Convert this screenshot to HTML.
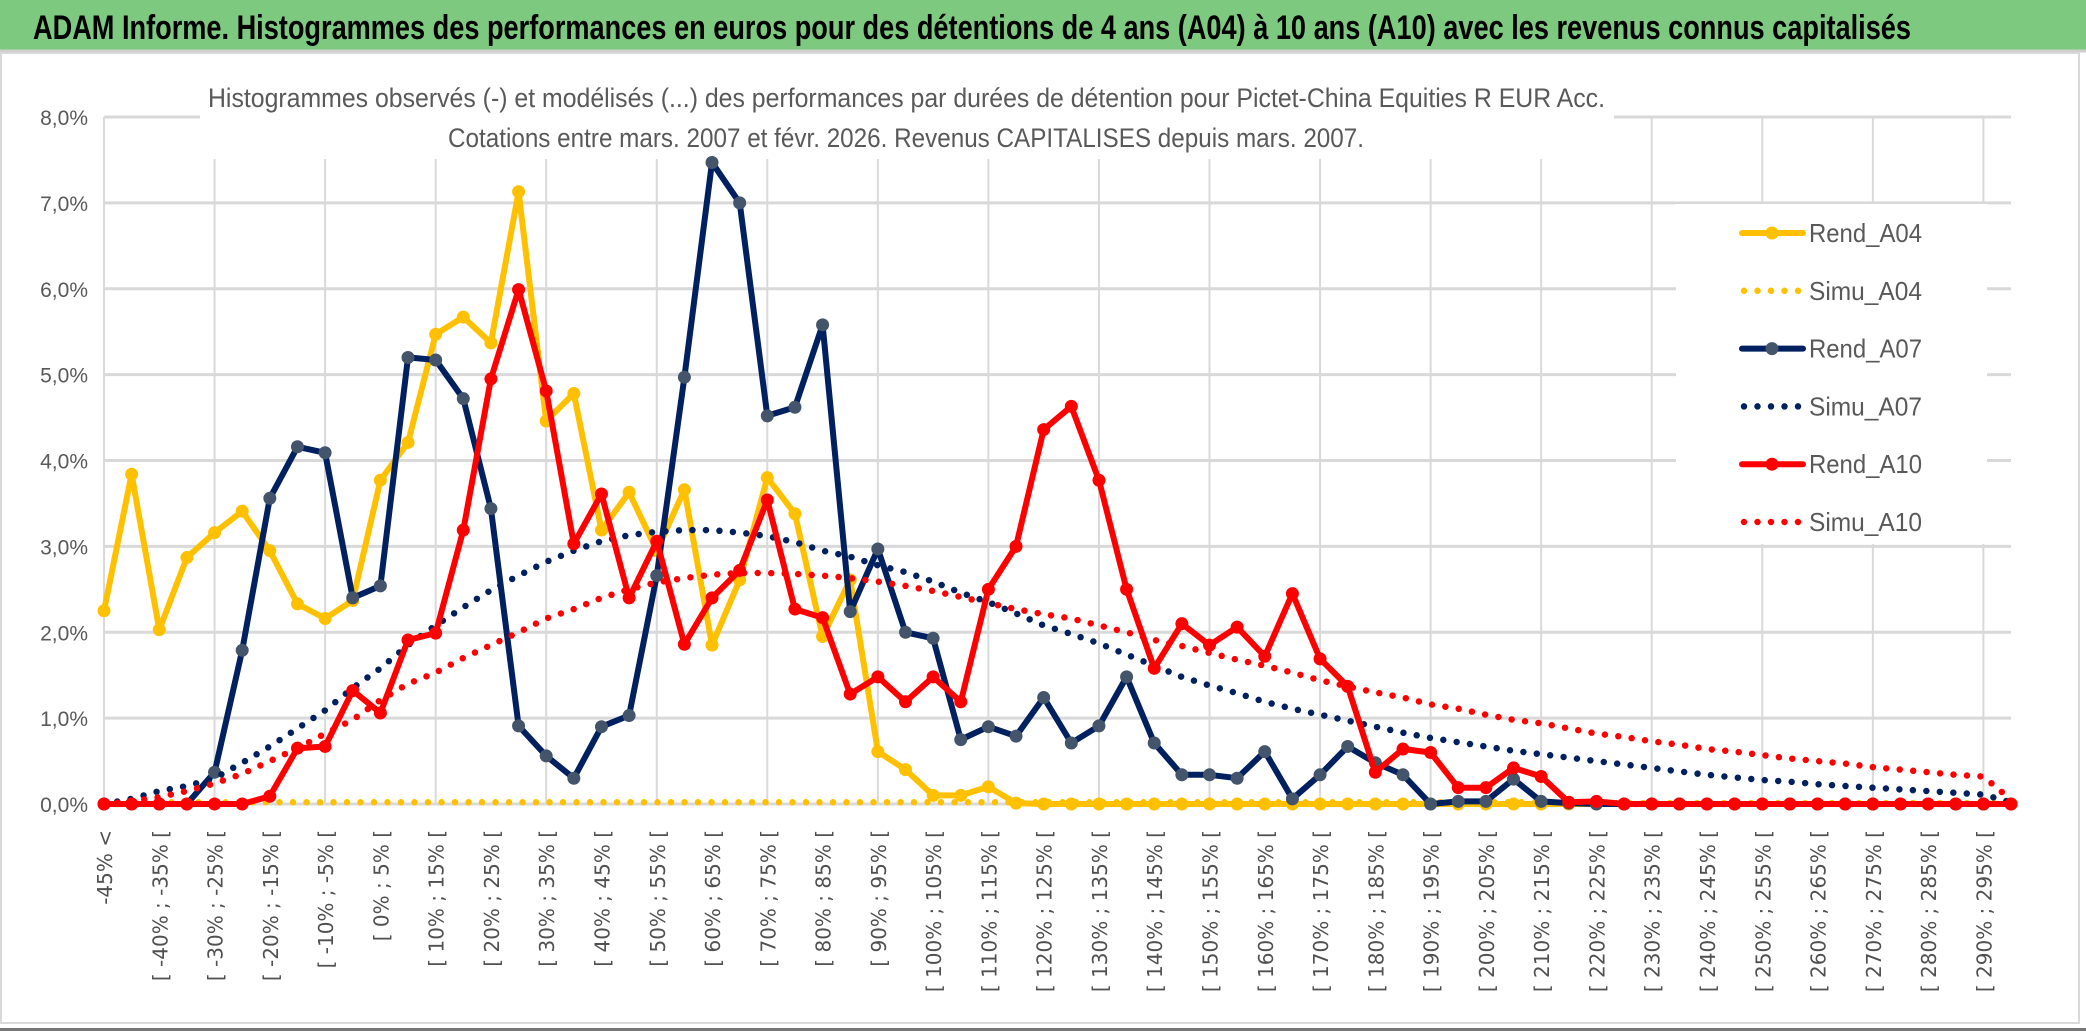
<!DOCTYPE html>
<html><head><meta charset="utf-8"><style>
html,body{margin:0;padding:0;background:#fff;}
svg{display:block;}
</style></head><body>
<svg id="chart" width="2086" height="1031" viewBox="0 0 2086 1031" xmlns="http://www.w3.org/2000/svg">
  <rect x="0" y="0" width="2086" height="1031" fill="#fff"/>
  <rect x="0" y="0" width="2086" height="50" fill="#7DC97F"/>
  <line x1="0" y1="51" x2="2086" y2="51" stroke="#cfcfcf" stroke-width="3"/>
  <text x="33" y="39" font-family="'Liberation Sans', sans-serif" font-weight="bold" font-size="34" fill="#000" textLength="1878" lengthAdjust="spacingAndGlyphs">ADAM Informe. Histogrammes des performances en euros pour des détentions de 4 ans (A04) à 10 ans (A10) avec les revenus connus capitalisés</text>
  <rect x="1" y="53" width="2078" height="970" fill="none" stroke="#d9d9d9" stroke-width="2"/>
  <rect x="0" y="1028" width="2086" height="3" fill="#777"/>
  <g id="grid"></g>
  <rect x="200" y="108" width="1414" height="51" fill="#fff"/>
  <text x="208" y="107" font-family="'Liberation Sans', sans-serif" font-size="27" fill="#595959" textLength="1397" lengthAdjust="spacingAndGlyphs">Histogrammes observés (-) et modélisés (...) des performances par durées de détention pour Pictet-China Equities R EUR Acc.</text>
  <text x="448" y="147" font-family="'Liberation Sans', sans-serif" font-size="27" fill="#595959" textLength="916" lengthAdjust="spacingAndGlyphs">Cotations entre mars. 2007 et févr. 2026. Revenus CAPITALISES depuis mars. 2007.</text>
  <rect x="1676" y="204" width="311" height="340" fill="#fff"/>
  <g id="yaxis"></g>
  <g id="xaxis"></g>
  <g id="series"></g>
  <g id="legend"></g>
</svg>
<script>
const rendA04 = [2.25,3.84,2.03,2.87,3.16,3.41,2.95,2.33,2.16,2.37,3.77,4.21,5.47,5.67,5.37,7.13,4.46,4.78,3.19,3.63,2.95,3.66,1.85,2.61,3.80,3.38,1.95,2.61,0.61,0.40,0.10,0.10,0.20,0.01,0.0,0,0,0,0,0,0,0,0,0,0,0,0,0,0,0,0,0,0,0,0,0,0,0,0,0,0,0,0,0,0,0,0,0,0,0];
const simuA04 = [0.02,0.02,0.02,0.02,0.02,0.02,0.02,0.02,0.02,0.02,0.02,0.02,0.02,0.02,0.02,0.02,0.02,0.02,0.02,0.02,0.02,0.02,0.02,0.02,0.02,0.02,0.02,0.02,0.02,0.02,0.02,0.02,0.02,0.02,0.02,0.02,0.02,0.02,0.02,0.02,0.02,0.02,0.02,0.02,0.02,0.02,0.02,0.02,0.02,0.02,0.02,0.02,0.02,0.01,0.01,0.01,0.01,0.01,0.01,0.01,0.01,0.01,0.01,0.01,0.01,0.01,0.01,0.01,0.01,0.01];
const rendA07 = [0,0,0,0,0.37,1.79,3.56,4.16,4.09,2.40,2.54,5.20,5.17,4.72,3.44,0.91,0.56,0.30,0.90,1.03,2.66,4.97,7.47,7.00,4.52,4.62,5.58,2.24,2.97,2.00,1.93,0.75,0.90,0.79,1.24,0.71,0.91,1.48,0.71,0.34,0.34,0.30,0.61,0.06,0.34,0.67,0.48,0.34,0.0,0.03,0.03,0.29,0.03,0.01,0,0,0,0,0,0,0,0,0,0,0,0,0,0,0,0];
const simuA07 = [0,0.06,0.15,0.21,0.30,0.48,0.67,0.88,1.09,1.35,1.58,1.85,2.08,2.29,2.49,2.66,2.82,2.95,3.06,3.13,3.17,3.19,3.19,3.16,3.12,3.05,2.95,2.88,2.78,2.70,2.59,2.46,2.35,2.22,2.08,1.98,1.87,1.74,1.61,1.48,1.38,1.29,1.19,1.11,1.04,0.97,0.90,0.83,0.77,0.72,0.67,0.62,0.58,0.54,0.50,0.46,0.42,0.38,0.34,0.31,0.28,0.26,0.23,0.21,0.19,0.17,0.15,0.13,0.11,0.02];
const rendA10 = [0,0,0,0,0,0,0.09,0.65,0.67,1.32,1.06,1.91,1.99,3.19,4.95,5.99,4.81,3.03,3.61,2.40,3.06,1.86,2.40,2.72,3.54,2.27,2.17,1.28,1.48,1.19,1.48,1.19,2.50,3.00,4.36,4.63,3.77,2.50,1.58,2.10,1.85,2.06,1.72,2.45,1.69,1.37,0.37,0.64,0.60,0.19,0.19,0.42,0.32,0.02,0.03,0,0,0,0,0,0,0,0,0,0,0,0,0,0,0];
const simuA10 = [0,0.03,0.08,0.15,0.24,0.35,0.50,0.65,0.82,0.98,1.21,1.40,1.53,1.70,1.85,2.00,2.16,2.27,2.40,2.50,2.58,2.63,2.67,2.69,2.69,2.68,2.66,2.63,2.59,2.54,2.48,2.41,2.34,2.27,2.21,2.16,2.08,2.00,1.91,1.84,1.76,1.68,1.61,1.53,1.44,1.37,1.30,1.24,1.16,1.11,1.04,0.98,0.94,0.88,0.82,0.78,0.73,0.69,0.64,0.61,0.57,0.53,0.50,0.47,0.43,0.40,0.37,0.34,0.32,0.05];
const yTicks = [0,1,2,3,4,5,6,7,8];
const yTickLabels = ["0,0%","1,0%","2,0%","3,0%","4,0%","5,0%","6,0%","7,0%","8,0%"];
const categories = ["-45% <"];
for (let b = -45; b < 300; b += 5) categories.push("[ " + b + "% ; " + (b + 5) + "% [");
const seriesNames = ["Rend_A04","Simu_A04","Rend_A07","Simu_A07","Rend_A10","Simu_A10"];

const NS = "http://www.w3.org/2000/svg";
const X0 = 104, X1 = 2011, Y0 = 804, Y8 = 117;
const N = categories.length;
function xScale(i){ return X0 + (X1 - X0) * i / (N - 1); }
function yScale(v){ return Y0 - (Y0 - Y8) * v / 8; }
function mk(tag, attrs, parent){ const e = document.createElementNS(NS, tag); for (const k in attrs) e.setAttribute(k, attrs[k]); parent.appendChild(e); return e; }

const grid = document.getElementById('grid');
yTicks.forEach(function(t){
  const y = yScale(t);
  const l = mk('line', {x1: X0, x2: X1, y1: y, y2: y, stroke: '#d9d9d9', 'stroke-width': 3}, grid);
  
  
});
for (let i = 0; i < N; i += 4) {
  const x = xScale(i);
  const l = mk('line', {x1: x, x2: x, y1: Y8, y2: Y0, stroke: '#d9d9d9', 'stroke-width': 2}, grid);
  
  
}

const yaxis = document.getElementById('yaxis');
yTicks.forEach(function(t, k){
  const tx = mk('text', {x: 88, y: yScale(t) + 8, 'text-anchor': 'end', 'font-family': "'Liberation Sans', sans-serif", 'font-size': 21, fill: '#595959'}, yaxis);
  tx.textContent = yTickLabels[k];
  
  
});

const xaxis = document.getElementById('xaxis');
for (let i = 0; i < N; i += 2) {
  const x = xScale(i) + 8;
  const tx = mk('text', {x: 0, y: 0, transform: 'translate(' + x + ',830) rotate(-90)', 'text-anchor': 'end', 'font-family': "'DejaVu Sans', sans-serif", 'font-size': 20, fill: '#505050'}, xaxis);
  tx.textContent = categories[i];
  
  
}

const seriesLayer = document.getElementById('series');
function pts(arr){ return arr.map(function(v, i){ return xScale(i).toFixed(1) + ',' + yScale(v).toFixed(1); }).join(' '); }
function drawSolid(arr, color, marker, name){
  const g = mk('g', {}, seriesLayer);
  
  
  const p = mk('polyline', {points: pts(arr), fill: 'none', stroke: color, 'stroke-width': 6, 'stroke-linejoin': 'round'}, g);
  
  
  arr.forEach(function(v, i){
    const c = mk('circle', {cx: xScale(i), cy: yScale(v), r: 6.5, fill: marker}, g);
    
    
  });
}
function drawDotted(arr, color, name){
  const p = mk('polyline', {points: pts(arr), fill: 'none', stroke: color, 'stroke-width': 6.5, 'stroke-linecap': 'round', 'stroke-dasharray': '0 13.5'}, seriesLayer);
  
  
}
drawSolid(rendA04, '#FFC000', '#FFC000', 'rend-a04');
drawDotted(simuA04, '#FFC000', 'simu-a04');
drawSolid(rendA07, '#002060', '#44546A', 'rend-a07');
drawDotted(simuA07, '#002060', 'simu-a07');
drawSolid(rendA10, '#FF0000', '#FF0000', 'rend-a10');
drawDotted(simuA10, '#FF0000', 'simu-a10');

const legend = document.getElementById('legend');
const legColors = ['#FFC000','#FFC000','#002060','#002060','#FF0000','#FF0000'];
const legMarkers = ['#FFC000',null,'#44546A',null,'#FF0000',null];
seriesNames.forEach(function(nm, k){
  const y = 233 + k * 57.8;
  const g = mk('g', {}, legend);
  
  
  if (legMarkers[k]) {
    mk('line', {x1: 1742, x2: 1803, y1: y, y2: y, stroke: legColors[k], 'stroke-width': 6, 'stroke-linecap': 'round'}, g);
    mk('circle', {cx: 1772, cy: y, r: 6.5, fill: legMarkers[k]}, g);
  } else {
    mk('line', {x1: 1744, x2: 1803, y1: y, y2: y, stroke: legColors[k], 'stroke-width': 6.5, 'stroke-linecap': 'round', 'stroke-dasharray': '0 13.5'}, g);
  }
  const t = mk('text', {x: 1809, y: y + 9, 'font-family': "'Liberation Sans', sans-serif", 'font-size': 26, fill: '#595959', textLength: 113, lengthAdjust: 'spacingAndGlyphs'}, g);
  t.textContent = nm;
});
</script>
</body></html>
